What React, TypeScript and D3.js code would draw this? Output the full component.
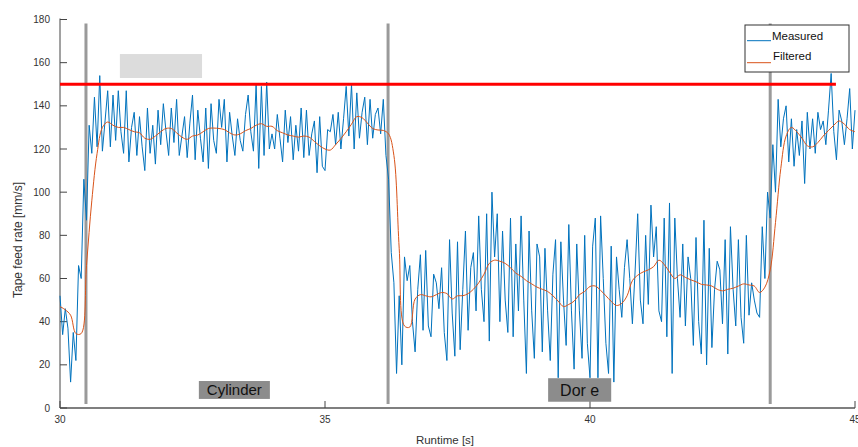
import React from "react";
import * as d3 from "d3";

// ---- data ----
const measuredStart = 30;
const measuredStep = 0.05;
const m30 = [52,34,46,37,12,35,22,66,60,106,87,131,118,144,121,154,119,133,147,121];
const m31 = [145,124,147,128,118,147,114,130,137,117,135,121,110,139,118,131,113,138,122,141];
const m32 = [128,117,139,123,143,117,126,135,116,132,145,115,138,125,114,139,111,141,124,118];
const m33 = [143,130,143,114,137,126,117,134,124,119,136,145,128,119,150,111,149,117,151,120];
const m34 = [127,120,136,125,114,138,123,135,115,131,119,139,116,138,117,127,133,109,135,112];
const m35 = [110,129,128,136,122,137,120,134,149,126,150,120,146,125,137,144,122,143,125,136];
const m36 = [139,127,143,117,106,72,58,16,52,20,70,59,66,40,26,55,71,36,73,38];
const m37 = [33,62,58,46,65,35,22,78,44,24,77,27,55,82,36,65,72,45,89,55];
const m38 = [40,90,31,100,70,90,40,82,50,35,88,33,76,45,89,50,16,82,45,23];
const m39 = [76,70,26,74,45,22,62,78,14,77,50,29,85,45,18,76,45,23,80,30];
const m40 = [14,75,88,14,89,60,30,16,75,12,70,55,42,65,78,60,39,63,90,50];
const m41 = [39,80,48,94,70,84,45,40,88,33,95,16,88,60,42,76,38,70,60,29];
const m42 = [79,40,25,87,20,74,28,55,68,64,39,78,25,84,55,38,78,42,30,80];
const m43 = [43,58,50,44,42,84,60,100,88,122,100,143,121,134,140,114,134,112,129,117];
const m44 = [133,104,137,120,134,118,137,129,133,122,138,155,128,115,138,133,122,134,148,120,138];
const measured = [...m30,...m31,...m32,...m33,...m34,...m35,...m36,...m37,...m38,...m39,...m40,...m41,...m42,...m43,...m44];

const filteredStart = 30;
const filteredStep = 0.1;
const f30 = [47,45.5,43,34.5,34.5,66,96,118,130,132.5];
const f31 = [131,130,130,129,128,127.5,125,124.5,126,128];
const f32 = [129.5,129.5,127.5,125.5,124.5,126,126.5,128,129.5,129.7];
const f33 = [129.5,129,127.5,126.5,127,128.5,129.5,131,131.7,130.5];
const f34 = [130.5,128.5,127.5,126.5,126,125.5,126,125.5,123.5,121.5];
const f35 = [120,119.5,122,124.8,128,131.5,135,134.5,132,129.5];
const f36 = [128.8,128.6,127,117,74,38,37.5,50.5,52.5,52];
const f37 = [51.5,52.5,53.5,53,50.5,52,52,53,55,58];
const f38 = [62,67,68.5,68,67,65,62.5,61,59,57.5];
const f39 = [56,55,54,52,49.5,47,48,49.5,52.5,54];
const f40 = [56.3,56.5,54.5,52,49.4,47.5,48.5,52,59,61.5];
const f41 = [63,64,65.5,68.5,66.5,63,60,61.7,60.5,59.4];
const f42 = [58.5,57.3,57,56.5,55,54.3,55,55.5,56.5,57.5];
const f43 = [57,56.5,53.5,56,64,86,111,126,130,128];
const f44 = [125,121.5,121,123,126,128.6,131,133,131.5,129,128];
const filtered = [...f30,...f31,...f32,...f33,...f34,...f35,...f36,...f37,...f38,...f39,...f40,...f41,...f42,...f43,...f44];

const limitValue = 150;
const limitRange = [30, 44.64];
const phaseBoundaries = [30.49, 36.19, 43.4];
const phaseLabels = ["Cylinder", "Dor e"];
const xTicks = [30, 35, 40, 45];
const yTicks = [0, 20, 40, 60, 80, 100, 120, 140, 160, 180];
const seriesNames = ["Measured", "Filtered"];

// ---- layout ----
const W = 858, H = 447;
const FONT = "'Liberation Sans', Arial, Helvetica, sans-serif";
const BLUE = "#0072BD";
const ORANGE = "#D95319";

export default function App() {
  const x = d3.scaleLinear().domain([30, 45]).range([60, 855]);
  const y = d3.scaleLinear().domain([0, 180]).range([408, 19.5]);

  const mLine = d3.line<number>()
    .x((_, i) => x(measuredStart + i * measuredStep))
    .y((d) => y(d));
  const fLine = d3.line<number>()
    .x((_, i) => x(filteredStart + i * filteredStep))
    .y((d) => y(d))
    .curve(d3.curveCatmullRom.alpha(0.5));

  // annotation boxes in data units
  const labelBoxes = [
    { t0: 32.62, t1: 33.96, v0: 4.2, v1: 12.5, size: 15 },
    { t0: 39.21, t1: 40.4, v0: 2.9, v1: 13.8, size: 16 },
  ];
  const grayBox = { t0: 31.13, t1: 32.68, v0: 152.9, v1: 164 };

  return (
    <svg width={W} height={H} style={{ position: "absolute", left: 0, top: 0, background: "#fff" }} fontFamily={FONT}>
      <rect x={0} y={0} width={W} height={H} fill="#fff" />
      {/* light gray annotation */}
      <rect x={x(grayBox.t0)} y={y(grayBox.v1)} width={x(grayBox.t1) - x(grayBox.t0)} height={y(grayBox.v0) - y(grayBox.v1)} fill="#dcdcdc" />
      {/* phase boundaries */}
      {phaseBoundaries.map((t, i) => (
        <line key={i} x1={x(t)} x2={x(t)} y1={y(178.2)} y2={y(1.85)} stroke="#9a9a9a" strokeWidth={3} />
      ))}
      {/* axes */}
      <line x1={60} x2={60} y1={y(180) - 1} y2={y(0)} stroke="#444" strokeWidth={1} />
      <line x1={60} x2={855} y1={y(0)} y2={y(0)} stroke="#555" strokeWidth={1.3} />
      {yTicks.map((v) => (
        <g key={v}>
          <line x1={60} x2={67} y1={y(v)} y2={y(v)} stroke="#444" strokeWidth={1} />
          <text x={50} y={y(v)} dy="0.35em" textAnchor="end" fontSize={10} fill="#333">{v}</text>
        </g>
      ))}
      {xTicks.map((t) => (
        <g key={t}>
          <line x1={x(t)} x2={x(t)} y1={y(0)} y2={y(0) - 7} stroke="#444" strokeWidth={1} />
          <text x={x(t)} y={423} textAnchor="middle" fontSize={10} fill="#333">{t}</text>
        </g>
      ))}
      <text x={445} y={444} textAnchor="middle" fontSize={11.5} fill="#333">Runtime [s]</text>
      <text transform={`translate(22,240) rotate(-90)`} textAnchor="middle" fontSize={12} fill="#333">Tape feed rate [mm/s]</text>
      {/* series */}
      <path d={mLine(measured) || ""} fill="none" stroke={BLUE} strokeWidth={1} strokeLinejoin="round" />
      <path d={fLine(filtered) || ""} fill="none" stroke={ORANGE} strokeWidth={1} />
      {/* limit */}
      <line x1={x(limitRange[0])} x2={x(limitRange[1])} y1={y(limitValue)} y2={y(limitValue)} stroke="#ff0000" strokeWidth={3} />
      {/* phase labels */}
      {labelBoxes.map((b, i) => (
        <g key={i}>
          <rect x={x(b.t0)} y={y(b.v1)} width={x(b.t1) - x(b.t0)} height={y(b.v0) - y(b.v1)} fill="#8c8c8c" />
          <text x={(x(b.t0) + x(b.t1)) / 2} y={(y(b.v0) + y(b.v1)) / 2} dy="0.36em" textAnchor="middle" fontSize={b.size} fill="#111" style={{ whiteSpace: "pre" }}>{phaseLabels[i]}</text>
        </g>
      ))}
      {/* legend */}
      <rect x={745} y={25} width={104} height={47} fill="#fff" stroke="#333" strokeWidth={1} />
      <line x1={747} x2={771} y1={40.7} y2={40.7} stroke={BLUE} strokeWidth={1} />
      <text x={772} y={39.5} fontSize={11.5} fill="#111">{seriesNames[0]}</text>
      <line x1={747} x2={771} y1={62.7} y2={62.7} stroke={ORANGE} strokeWidth={1} />
      <text x={773} y={60} fontSize={11.5} fill="#111">{seriesNames[1]}</text>
    </svg>
  );
}
